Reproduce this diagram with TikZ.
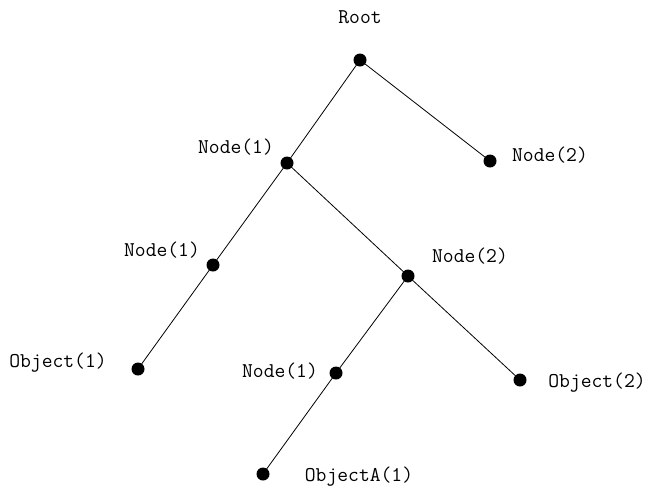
\documentclass[tikz,border=0pt]{standalone}
\begin{document}
\begin{tikzpicture}[x=1pt,y=-1pt,
  dot/.style={circle,fill=black,inner sep=0pt,minimum size=13pt},
  lbl/.style={font=\ttfamily\fontsize{21}{24}\selectfont,inner sep=0pt,text height=12.5pt,text depth=0pt},
  edge/.style={draw=black,line width=0.8pt}]
\useasboundingbox (0,0) rectangle (648,488);
% dots
\node[dot] (root) at (360,60) {};
\node[dot] (n1) at (287,163) {};
\node[dot] (n2) at (490,161) {};
\node[dot] (n11) at (213,265) {};
\node[dot] (n12) at (408,276) {};
\node[dot] (o1) at (138,369) {};
\node[dot] (n121) at (336,373) {};
\node[dot] (o2) at (520,380) {};
\node[dot] (oa) at (263,474) {};
% edges
\draw[edge] (root.center) -- (n1.center);
\draw[edge] (root.center) -- (n2.center);
\draw[edge] (n1.center) -- (n11.center);
\draw[edge] (n11.center) -- (o1.center);
\draw[edge] (n1.center) -- (n12.center);
\draw[edge] (n12.center) -- (n121.center);
\draw[edge] (n12.center) -- (o2.center);
\draw[edge] (n121.center) -- (oa.center);
% labels
\node[lbl] (lroot) at (360,17) {Root};
\node[lbl] (ln1) at (236,147) {Node(1)};
\node[lbl] (ln2) at (550,155) {Node(2)};
\node[lbl] (ln11) at (162,250) {Node(1)};
\node[lbl] (ln12) at (470,256) {Node(2)};
\node[lbl] (lo1) at (58,361) {Object(1)};
\node[lbl] (ln121) at (280,371) {Node(1)};
\node[lbl] (lo2) at (597,381) {Object(2)};
\node[lbl] (loa) at (359,475) {ObjectA(1)};
\end{tikzpicture}
\end{document}
